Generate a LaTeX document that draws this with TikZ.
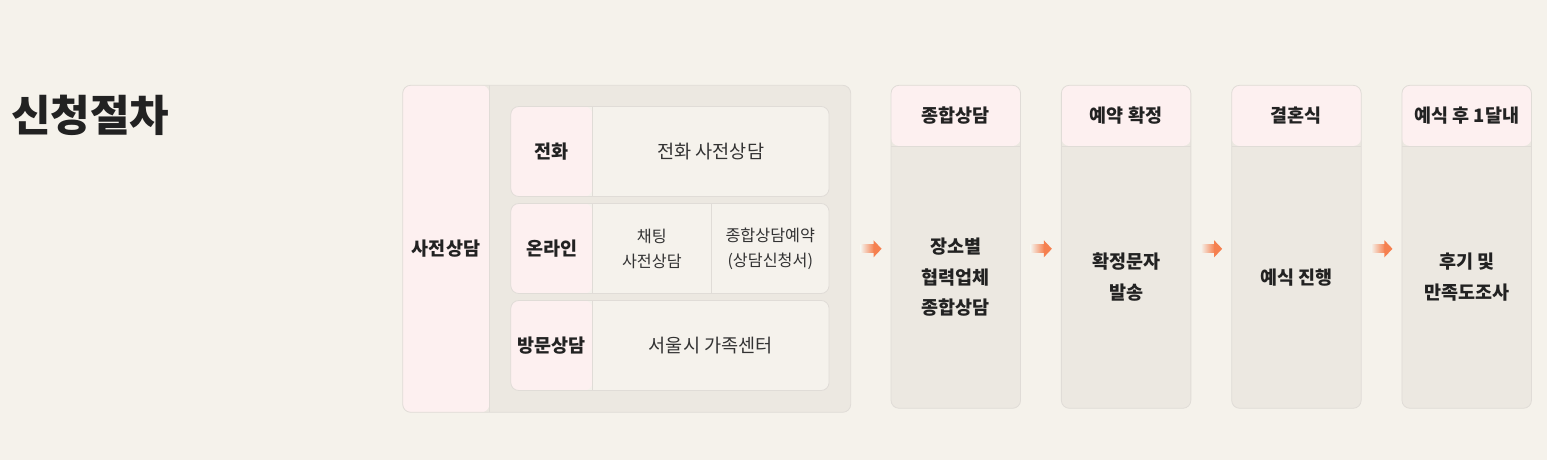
\documentclass[tikz,border=0pt]{standalone}
\usepackage{fontspec}
\setmainfont{Noto Sans CJK KR}
\usepackage{tikz}
\usetikzlibrary{shapes,arrows,positioning,calc}
\usepackage{xcolor}
\definecolor{bgbeige}{HTML}{F5F2EB}
\definecolor{boxgray}{HTML}{ECE8E1}
\definecolor{cellbeige}{HTML}{F5F2EC}
\definecolor{headpink}{HTML}{FDF0F0}
\definecolor{linegray}{HTML}{E0DCD7}
\definecolor{textdark}{HTML}{222222}
\definecolor{textmid}{HTML}{333333}
\definecolor{arroworange}{HTML}{F5804F}
\tikzstyle{groupbox} = [rectangle, rounded corners=8pt, minimum width=448pt, minimum height=327pt, inner sep=0pt, outer sep=0pt, draw=linegray, line width=0.8pt, fill=boxgray,
  path picture={\fill[headpink] (path picture bounding box.south west) rectangle ([xshift=86.6pt]path picture bounding box.north west);
    \draw[linegray, line width=0.8pt] ([xshift=86.6pt]path picture bounding box.south west) -- ([xshift=86.6pt]path picture bounding box.north west);}]
\tikzstyle{rowbox} = [rectangle, rounded corners=8pt, minimum width=318.3pt, minimum height=90pt, inner sep=0pt, outer sep=0pt, draw=linegray, line width=0.8pt, fill=cellbeige,
  path picture={\fill[headpink] (path picture bounding box.south west) rectangle ([xshift=81.6pt]path picture bounding box.north west);
    \draw[linegray, line width=0.8pt] ([xshift=81.6pt]path picture bounding box.south west) -- ([xshift=81.6pt]path picture bounding box.north west);}]
\tikzstyle{stepbox} = [rectangle, rounded corners=8pt, minimum width=129.5pt, minimum height=323pt, inner sep=0pt, outer sep=0pt, draw=linegray, line width=0.8pt, fill=boxgray,
  path picture={\fill[headpink] ([yshift=-60.7pt]path picture bounding box.north west) rectangle (path picture bounding box.north east);
    \draw[linegray, line width=0.8pt] ([yshift=-60.7pt]path picture bounding box.north west) -- ([yshift=-60.7pt]path picture bounding box.north east);}]
\tikzstyle{labtext} = [inner sep=0pt, text=textdark, font=\bfseries\fontsize{18.5}{22}\selectfont]
\tikzstyle{celltext} = [inner sep=0pt, text=textmid, font=\fontsize{18.6}{22}\selectfont]
\tikzstyle{smalltext} = [inner sep=0pt, text=textmid, align=center, font=\fontsize{16.2}{25}\selectfont]
\tikzstyle{bodytext} = [inner sep=0pt, text=textdark, align=center, font=\bfseries\fontsize{18.5}{30.5}\selectfont]
\tikzstyle{splitline} = [draw=linegray, line width=0.8pt]
\tikzstyle{arrowshaft} = [left color=bgbeige, right color=arroworange]
\tikzstyle{arrowhead} = [fill=arroworange]

\begin{document}
\begin{tikzpicture}[node distance=40.8pt]
    \path[use as bounding box, fill=bgbeige] (0pt,0pt) rectangle (1547pt,460pt);
    % Title
    \node (title) [anchor=west, inner sep=0pt, text=textdark, font=\bfseries\fontsize{43}{48}\selectfont] at (11pt,345pt) {신청절차};

    % Pre-consultation group
    \node (grp) [groupbox] at (626.7pt,211.2pt) {};
    \node (pre) [labtext] at ([xshift=43.3pt]grp.west) {사전상담};
    \node (r1) [rowbox] at (669.9pt,308.5pt) {};
    \node (r2) [rowbox, below=7pt of r1] {};
    \node (r3) [rowbox, below=7pt of r2] {};
    \draw [splitline] ([xshift=200.6pt]r2.north west) -- ([xshift=200.6pt]r2.south west);
    \node (r1lab) [labtext] at ([xshift=40.8pt]r1.west) {전화};
    \node (r1txt) [celltext] at ([xshift=200pt]r1.west) {전화 사전상담};
    \node (r2lab) [labtext] at ([xshift=40.8pt]r2.west) {온라인};
    \node (r2chat) [smalltext] at ([xshift=141.1pt]r2.west) {채팅\\사전상담};
    \node (r2book) [smalltext] at ([xshift=259.5pt]r2.west) {종합상담예약\\(상담신청서)};
    \node (r3lab) [labtext] at ([xshift=40.8pt]r3.west) {방문상담};
    \node (r3txt) [celltext] at ([xshift=200pt]r3.west) {서울시 가족센터};

    % Steps
    \node (s1) [stepbox] at (955.8pt,213.2pt) {};
    \node (s2) [stepbox, right=of s1] {};
    \node (s3) [stepbox, right=of s2] {};
    \node (s4) [stepbox, right=of s3] {};
    \node (s1head) [labtext] at ([yshift=-30.3pt]s1.north) {종합상담};
    \node (s2head) [labtext] at ([yshift=-30.3pt]s2.north) {예약 확정};
    \node (s3head) [labtext] at ([yshift=-30.3pt]s3.north) {결혼식};
    \node (s4head) [labtext] at ([yshift=-30.3pt]s4.north) {예식 후 1달내};
    \node (s1body) [bodytext] at ([yshift=-191.8pt]s1.north) {장소별\\협력업체\\종합상담};
    \node (s2body) [bodytext] at ([yshift=-191.8pt]s2.north) {확정문자\\발송};
    \node (s3body) [bodytext] at ([yshift=-191.8pt]s3.north) {예식 진행};
    \node (s4body) [bodytext] at ([yshift=-191.8pt]s4.north) {후기 및\\만족도조사};

    % Arrows
    \foreach \a/\b in {grp/s1, s1/s2, s2/s3, s3/s4} {
        \shade [arrowshaft] ($(\a.east |- grp.east)+(10pt,-4pt)$) rectangle ($(\b.west |- grp.east)+(-17pt,4pt)$);
        \fill [arrowhead] ($(\b.west |- grp.east)+(-17.5pt,8.5pt)$) -- ($(\b.west |- grp.east)+(-9.5pt,0pt)$) -- ($(\b.west |- grp.east)+(-17.5pt,-8.5pt)$) -- cycle;
    }
\end{tikzpicture}
\end{document}
